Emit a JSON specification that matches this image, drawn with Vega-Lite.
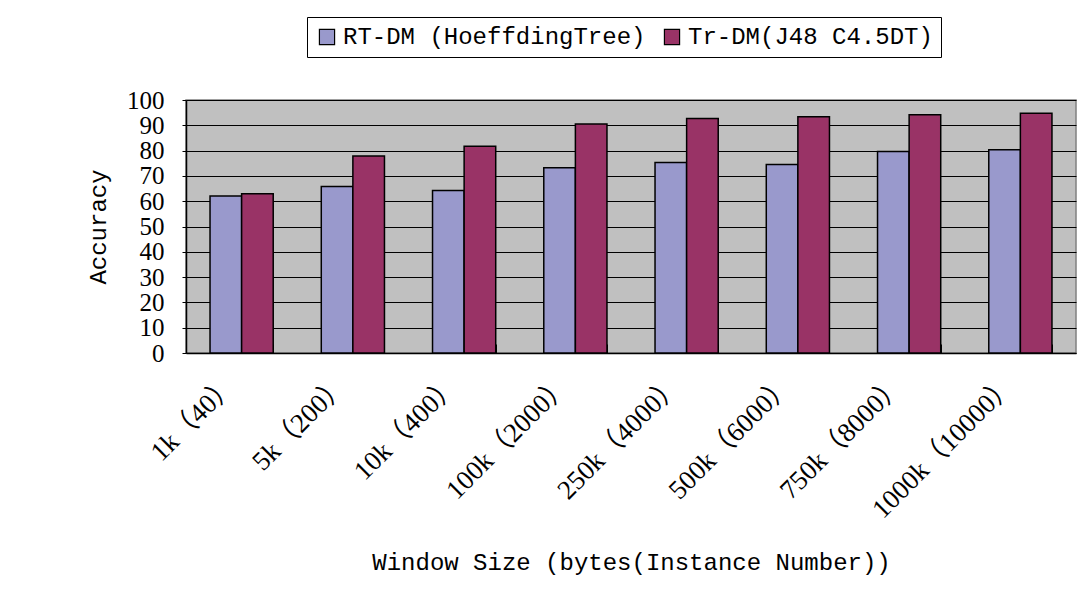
{
  "$schema": "https://vega.github.io/schema/vega-lite/v6.json",
  "autosize": "none",
  "width": 890,
  "height": 253,
  "padding": {"left": 186, "top": 100, "right": 7, "bottom": 243},
  "background": "white",
  "data": {
    "values": [
      {"window": "1k（40）", "method": "RT-DM (HoeffdingTree)", "accuracy": 62.1},
      {"window": "1k（40）", "method": "Tr-DM(J48 C4.5DT)", "accuracy": 62.9},
      {"window": "5k（200）", "method": "RT-DM (HoeffdingTree)", "accuracy": 65.8},
      {"window": "5k（200）", "method": "Tr-DM(J48 C4.5DT)", "accuracy": 77.9},
      {"window": "10k（400）", "method": "RT-DM (HoeffdingTree)", "accuracy": 64.2},
      {"window": "10k（400）", "method": "Tr-DM(J48 C4.5DT)", "accuracy": 81.7},
      {"window": "100k（2000）", "method": "RT-DM (HoeffdingTree)", "accuracy": 73.2},
      {"window": "100k（2000）", "method": "Tr-DM(J48 C4.5DT)", "accuracy": 90.5},
      {"window": "250k（4000）", "method": "RT-DM (HoeffdingTree)", "accuracy": 75.3},
      {"window": "250k（4000）", "method": "Tr-DM(J48 C4.5DT)", "accuracy": 92.7},
      {"window": "500k（6000）", "method": "RT-DM (HoeffdingTree)", "accuracy": 74.5},
      {"window": "500k（6000）", "method": "Tr-DM(J48 C4.5DT)", "accuracy": 93.4},
      {"window": "750k（8000）", "method": "RT-DM (HoeffdingTree)", "accuracy": 79.6},
      {"window": "750k（8000）", "method": "Tr-DM(J48 C4.5DT)", "accuracy": 94.2},
      {"window": "1000k（10000）", "method": "RT-DM (HoeffdingTree)", "accuracy": 80.3},
      {"window": "1000k（10000）", "method": "Tr-DM(J48 C4.5DT)", "accuracy": 94.8}
    ]
  },
  "mark": {"type": "bar", "stroke": "black", "strokeWidth": 1.5},
  "encoding": {
    "x": {
      "field": "window",
      "type": "nominal",
      "sort": null,
      "scale": {"paddingInner": 0.432, "paddingOuter": 0.216},
      "axis": {
        "title": "Window Size (bytes(Instance Number))",
        "titleFont": "Liberation Mono",
        "titleFontSize": 24,
        "titleFontWeight": "normal",
        "titleColor": "black",
        "titlePadding": 28,
        "labelAngle": -45,
        "labelAlign": "right",
        "labelBaseline": "middle",
        "labelFont": "Liberation Serif, Noto Sans CJK SC",
        "labelFontSize": 27,
        "labelColor": "black",
        "labelPadding": 36,
        "labelOffset": -10,
        "labelLimit": 400,
        "tickBand": "extent",
        "tickSize": -9,
        "tickColor": "black",
        "domainColor": "black",
        "domainWidth": 1.5,
        "grid": false
      }
    },
    "xOffset": {"field": "method", "type": "nominal", "sort": null, "scale": {"paddingInner": 0, "paddingOuter": 0}},
    "y": {
      "field": "accuracy",
      "type": "quantitative",
      "scale": {"domain": [0, 100], "nice": false},
      "axis": {
        "title": "Accuracy",
        "titleFont": "Liberation Mono",
        "titleFontSize": 24,
        "titleFontWeight": "normal",
        "titleColor": "black",
        "titlePadding": 16,
        "values": [0, 10, 20, 30, 40, 50, 60, 70, 80, 90, 100],
        "labelFont": "Liberation Serif",
        "labelFontSize": 25,
        "labelColor": "black",
        "labelPadding": 18,
        "labelOverlap": false,
        "labelFlush": false,
        "tickSize": 4,
        "tickColor": "black",
        "domainColor": "black",
        "domainWidth": 1.5,
        "grid": true,
        "gridColor": "black",
        "gridWidth": 1
      }
    },
    "color": {
      "field": "method",
      "type": "nominal",
      "sort": null,
      "scale": {"range": ["#9999cc", "#993366"]},
      "legend": {
        "title": null,
        "orient": "none",
        "legendX": 121,
        "legendY": -83,
        "direction": "horizontal",
        "strokeColor": "black",
        "padding": 8,
        "symbolType": "square",
        "symbolSize": 230,
        "symbolStrokeColor": "black",
        "symbolStrokeWidth": 1.2,
        "symbolOpacity": 1,
        "labelFont": "Liberation Mono",
        "labelFontSize": 24,
        "labelColor": "black",
        "labelLimit": 400,
        "labelOffset": 4,
        "columnPadding": 14
      }
    }
  },
  "config": {
    "view": {"fill": "#c0c0c0", "stroke": "#808080", "strokeWidth": 1.5}
  }
}
